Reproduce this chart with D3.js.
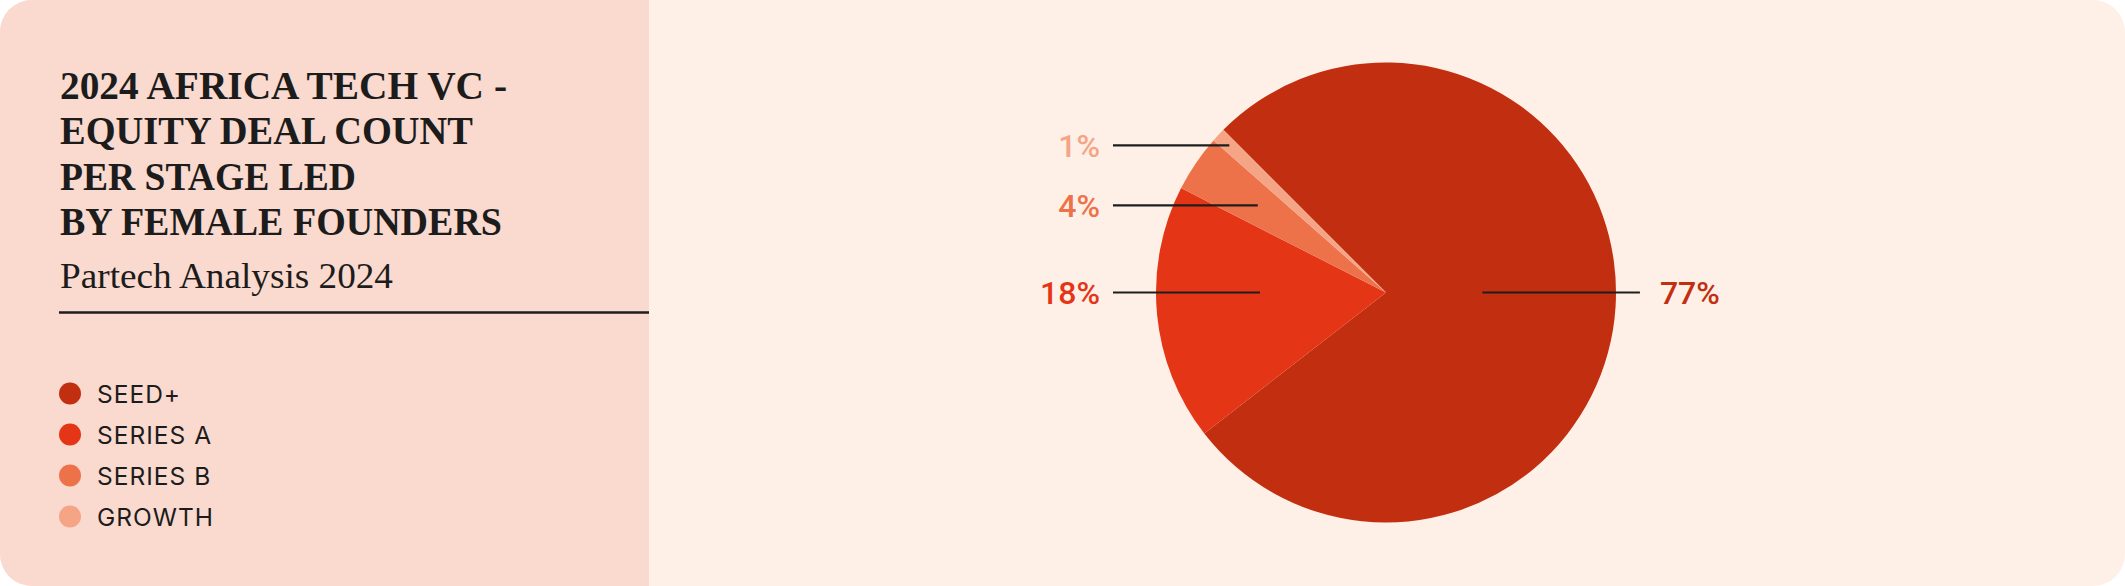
<!DOCTYPE html>
<html>
<head>
<meta charset="utf-8">
<script src="https://cdn.jsdelivr.net/npm/d3@7"></script>
<style>
  html, body { margin: 0; padding: 0; background: #ffffff; }
  svg { display: block; }
</style>
</head>
<body>
<svg id="chart" width="2125" height="586"></svg>
<script>
// ---- data ----
const categories = ["SEED+", "SERIES A", "SERIES B", "GROWTH"];
const shares = [77, 18, 4, 1];
const sliceColors = ["#C22E10", "#E53517", "#EE7249", "#F5A585"];
const titleLines = ["2024 AFRICA TECH VC -", "EQUITY DEAL COUNT", "PER STAGE LED", "BY FEMALE FOUNDERS"];
const subtitle = "Partech Analysis 2024";

// ---- layout (separate from data) ----
const W = 2125, H = 586, cardR = 32, panelW = 649;
const titleWidths = [447, 413, 296, 442];
const labelReach = [0.42, 0.55, 0.674, 0.674];

const svg = d3.select("#chart");
const defs = svg.append("defs");
defs.append("clipPath").attr("id", "card")
  .append("rect").attr("width", W).attr("height", H).attr("rx", cardR).attr("ry", cardR);

const card = svg.append("g").attr("clip-path", "url(#card)");
card.append("rect").attr("width", W).attr("height", H).attr("fill", "#FEF0E6");
card.append("rect").attr("width", panelW).attr("height", H).attr("fill", "#FAD9CE");

// ---- title ----
const tg = card.append("g");
tg.selectAll("text.title").data(titleLines).join("text")
  .attr("class", "title")
  .attr("x", 60)
  .attr("y", (d, i) => 98.5 + i * 45.6)
  .attr("font-family", "'Liberation Serif', 'Times New Roman', serif")
  .attr("font-weight", 700)
  .attr("font-size", 41)
  .attr("fill", "#1c1c1c")
  .attr("textLength", (d, i) => titleWidths[i])
  .attr("lengthAdjust", "spacingAndGlyphs")
  .text(d => d);

tg.append("text")
  .attr("x", 60).attr("y", 288)
  .attr("font-family", "'Liberation Serif', 'Times New Roman', serif")
  .attr("font-size", 35)
  .attr("fill", "#1c1c1c")
  .attr("textLength", 333)
  .attr("lengthAdjust", "spacingAndGlyphs")
  .text(subtitle);

card.append("line")
  .attr("x1", 59).attr("x2", panelW)
  .attr("y1", 312.5).attr("y2", 312.5)
  .attr("stroke", "#1e1e1e").attr("stroke-width", 2.4);

// ---- legend ----
const color = d3.scaleOrdinal().domain(categories).range(sliceColors);
const legendY = d3.scalePoint().domain(categories).range([393.5, 516.5]);
const lg = card.append("g").selectAll("g").data(categories).join("g")
  .attr("transform", d => `translate(70,${legendY(d)})`);
lg.append("circle").attr("r", 11).attr("fill", d => color(d));
lg.append("text")
  .attr("x", 27).attr("y", 9)
  .attr("font-family", "Inter, 'Noto Sans', sans-serif")
  .attr("font-size", 24.5)
  .attr("letter-spacing", 1)
  .attr("fill", "#1c1c1c")
  .text(d => d);

// ---- pie ----
const cx = 1386, cy = 292.5, R = 230;
const start = -Math.PI / 4;
const pie = d3.pie().sort(null).value(d => d.v)
  .startAngle(start).endAngle(start + 2 * Math.PI);
const arcs = pie(categories.map((c, i) => ({ c, v: shares[i] })));
const arc = d3.arc().innerRadius(0).outerRadius(R);

const pg = card.append("g").attr("transform", `translate(${cx},${cy})`);
pg.selectAll("path").data(arcs).join("path")
  .attr("d", arc)
  .attr("fill", d => color(d.data.c));

// label anchor points derived from slice geometry
const pts = arcs.map((d, i) => {
  const a = (d.startAngle + d.endAngle) / 2;
  const rho = labelReach[i] * R;
  let x = rho * Math.sin(a), y = -rho * Math.cos(a);
  if (Math.abs(y) < 0.1 * R) y = 0;
  return { d, a, x, y, side: Math.sin(a) >= 0 ? 1 : -1 };
});
// resolve overlaps on each side: push upper labels up along their ray
[-1, 1].forEach(side => {
  const s = pts.filter(p => p.side === side).sort((p, q) => q.y - p.y);
  for (let k = 1; k < s.length; k++) {
    const minGap = 60;
    if (s[k - 1].y - s[k].y < minGap) {
      s[k].y = s[k - 1].y - minGap;
      const t = s[k].y / -Math.cos(s[k].a);
      s[k].x = t * Math.sin(s[k].a);
    }
  }
});

const leftX = -1.187 * R, rightX = 1.104 * R;
pg.selectAll("line.lbl").data(pts).join("line")
  .attr("class", "lbl")
  .attr("x1", p => p.side < 0 ? leftX : p.x)
  .attr("x2", p => p.side < 0 ? p.x : rightX)
  .attr("y1", p => p.y).attr("y2", p => p.y)
  .attr("stroke", "#1e1e1e").attr("stroke-width", 2.2);

pg.selectAll("text.lbl").data(pts).join("text")
  .attr("class", "lbl")
  .attr("x", p => p.side < 0 ? leftX - 13 : rightX + 20)
  .attr("y", p => p.y + 11.5)
  .attr("text-anchor", p => p.side < 0 ? "end" : "start")
  .attr("font-family", "Roboto, 'Noto Sans', sans-serif")
  .attr("font-weight", 500)
  .attr("font-size", 32)
  .attr("fill", p => color(p.d.data.c))
  .text(p => p.d.data.v + "%");
</script>
</body>
</html>
